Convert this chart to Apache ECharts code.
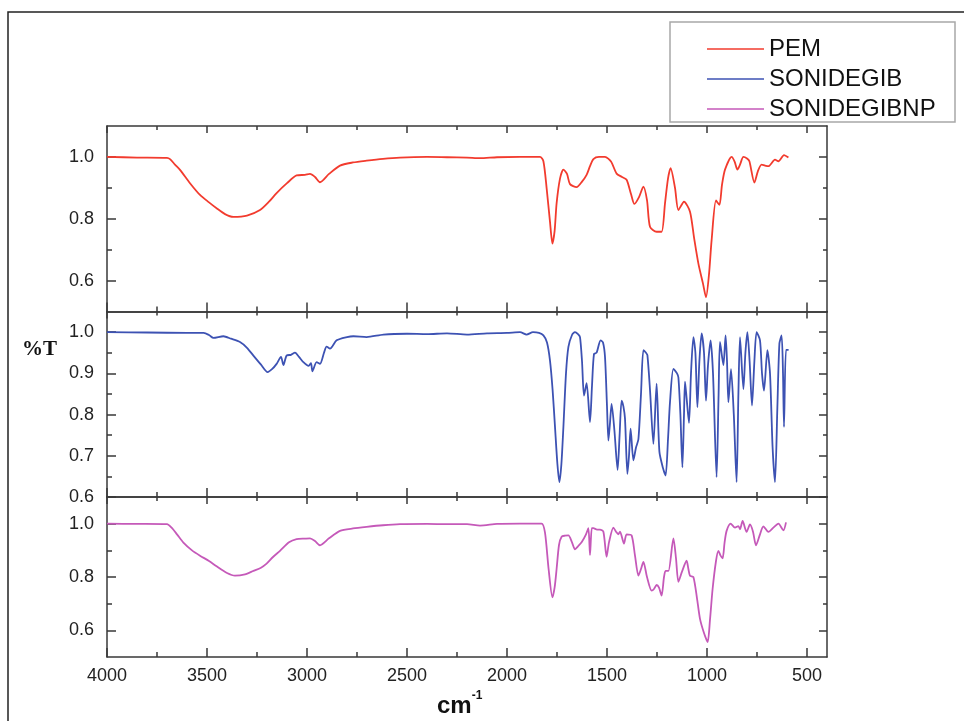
<!DOCTYPE html>
<html>
<head>
<meta charset="utf-8">
<script src="https://cdn.jsdelivr.net/npm/echarts@6/dist/echarts.min.js"></script>
<style>html,body{margin:0;padding:0;background:#fff}#c{width:964px;height:721px}</style>
</head>
<body>
<div id="c"></div>
<script>
// ---------- data (wavenumber cm-1, transmittance) ----------
const seriesNames = ['PEM', 'SONIDEGIB', 'SONIDEGIBNP'];

const pemWn = [4000,3850,3700,3685,3660,3635,3585,3535,3490,3452,3410,3368,3300,3235,3190,3152,3100,3052,3010,2985,2960,2935,2890,2835,2770,2702,2620,2535,2400,2300,2200,2135,2050,1935,1835,1818,1802,1785,1773,1762,1752,1735,1718,1700,1685,1652,1625,1602,1585,1568,1540,1510,1480,1452,1425,1402,1380,1363,1340,1318,1300,1285,1252,1227,1210,1195,1182,1160,1143,1115,1085,1065,1043,1020,1005,990,977,955,938,925,910,877,862,848,835,818,800,788,763,745,727,710,693,660,643,615,593];
const pemT  = [1.0,0.998,0.997,0.993,0.975,0.958,0.915,0.877,0.853,0.834,0.815,0.806,0.81,0.828,0.855,0.883,0.915,0.94,0.942,0.945,0.935,0.918,0.945,0.972,0.982,0.988,0.994,0.998,1.0,0.999,0.998,0.996,0.999,1.0,1.0,0.986,0.9,0.79,0.72,0.76,0.85,0.93,0.959,0.945,0.912,0.902,0.92,0.942,0.97,0.993,1.0,1.0,0.985,0.946,0.935,0.926,0.88,0.848,0.87,0.904,0.86,0.774,0.758,0.758,0.85,0.93,0.964,0.9,0.828,0.855,0.823,0.74,0.655,0.59,0.546,0.62,0.73,0.859,0.845,0.91,0.959,1.0,0.985,0.959,0.975,1.0,0.995,0.986,0.917,0.955,0.975,0.972,0.97,0.991,0.986,1.006,0.998];

const sonWn = [4000,3800,3600,3517,3490,3468,3418,3380,3335,3300,3268,3230,3197,3175,3152,3130,3118,3102,3080,3060,3040,3018,2992,2980,2973,2952,2935,2915,2902,2885,2852,2800,2768,2702,2618,2500,2400,2300,2200,2100,2000,1935,1902,1870,1840,1818,1800,1785,1772,1760,1748,1738,1728,1718,1705,1693,1675,1660,1645,1635,1625,1615,1602,1585,1575,1565,1552,1532,1520,1510,1500,1493,1485,1477,1463,1447,1437,1427,1418,1410,1398,1390,1382,1368,1355,1343,1330,1318,1305,1298,1285,1268,1252,1238,1220,1207,1195,1185,1168,1150,1143,1133,1123,1115,1110,1102,1090,1080,1068,1058,1048,1038,1027,1015,1005,995,982,970,952,942,935,918,907,900,893,880,866,852,843,835,818,808,798,787,775,763,752,735,725,715,698,685,672,660,648,638,627,620,615,605,592];
const sonT  = [1.0,0.999,0.998,0.998,0.993,0.986,0.99,0.984,0.976,0.962,0.943,0.921,0.903,0.91,0.923,0.94,0.92,0.943,0.945,0.95,0.94,0.927,0.918,0.925,0.905,0.927,0.923,0.95,0.965,0.96,0.98,0.988,0.99,0.988,0.994,0.996,0.995,0.997,0.994,0.997,0.998,1.0,0.994,1.0,0.998,0.992,0.975,0.931,0.86,0.77,0.68,0.636,0.68,0.77,0.9,0.964,0.993,1.0,0.995,0.988,0.93,0.846,0.876,0.782,0.87,0.947,0.95,0.98,0.975,0.94,0.82,0.737,0.78,0.826,0.762,0.666,0.75,0.834,0.82,0.79,0.656,0.7,0.766,0.689,0.72,0.74,0.85,0.956,0.95,0.944,0.86,0.729,0.875,0.71,0.67,0.652,0.74,0.83,0.911,0.9,0.89,0.8,0.672,0.8,0.88,0.84,0.78,0.9,0.988,0.95,0.818,0.93,0.997,0.95,0.834,0.92,0.98,0.9,0.648,0.85,0.976,0.92,0.992,0.93,0.83,0.91,0.8,0.636,0.85,0.988,0.862,0.95,1.0,0.93,0.822,0.93,1.0,0.98,0.9,0.858,0.956,0.9,0.72,0.636,0.82,0.972,0.992,0.9,0.77,0.957,0.957];

const npWn = [4000,3850,3700,3677,3650,3618,3575,3535,3490,3452,3400,3360,3310,3268,3230,3202,3170,3135,3090,3052,3010,2985,2960,2935,2890,2835,2770,2702,2620,2535,2400,2300,2200,2135,2050,1935,1827,1810,1792,1773,1762,1752,1740,1727,1710,1693,1675,1660,1645,1627,1605,1593,1585,1576,1568,1550,1535,1518,1502,1490,1468,1455,1443,1435,1415,1402,1377,1360,1343,1330,1318,1300,1277,1265,1252,1240,1227,1215,1207,1193,1168,1155,1143,1125,1102,1093,1085,1068,1050,1035,1015,997,985,972,955,943,932,922,912,902,882,860,843,835,822,802,785,770,755,735,718,693,668,643,618,605];
const npT  = [1.0,0.999,0.998,0.985,0.96,0.929,0.9,0.88,0.86,0.84,0.815,0.805,0.81,0.823,0.835,0.85,0.875,0.898,0.93,0.942,0.944,0.945,0.935,0.919,0.945,0.973,0.982,0.988,0.994,0.998,0.999,0.998,0.998,0.993,0.999,1.0,1.0,0.966,0.83,0.724,0.76,0.83,0.92,0.951,0.955,0.956,0.93,0.904,0.915,0.93,0.96,0.983,0.882,0.983,0.983,0.978,0.978,0.97,0.876,0.93,0.985,0.97,0.96,0.97,0.925,0.96,0.956,0.88,0.805,0.83,0.857,0.8,0.749,0.755,0.77,0.76,0.73,0.8,0.823,0.823,0.945,0.87,0.782,0.82,0.861,0.83,0.805,0.8,0.72,0.643,0.59,0.556,0.64,0.755,0.86,0.898,0.88,0.87,0.93,0.973,1.0,0.985,0.991,0.979,1.01,0.969,0.997,0.97,0.919,0.96,0.99,0.969,0.985,1.0,0.975,1.005];

// tick labels
const xMajorTicks = [500,1000,1500,2000,2500,3000,3500,4000];
const xMinorTicks = [750,1250,1750,2250,2750,3250,3750];
const yMajorTop = [0.6,0.8,1.0];
const yMinorTop = [0.7,0.9];
const yMajorMid = [0.6,0.7,0.8,0.9,1.0];
const yMinorMid = [0.65,0.75,0.85,0.95];
const yMajorBot = [0.6,0.8,1.0];
const yMinorBot = [0.7,0.9];

const colors = ['#f23b2e', '#3d52b3', '#c559b9'];

// ---------- layout ----------
const panels = [
  {top: 126, height: 185.5, ymin: 0.5, ymax: 1.1, major: yMajorTop, minor: yMinorTop},
  {top: 311.5, height: 185.5, ymin: 0.6, ymax: 1.05, major: yMajorMid, minor: yMinorMid},
  {top: 497, height: 160, ymin: 0.5, ymax: 1.1, major: yMajorBot, minor: yMinorBot}
];
const LINE = '#383838';
const FONT = '"Liberation Sans", Arial, sans-serif';

const grid = [], xAxis = [], yAxis = [];
panels.forEach((p, i) => {
  grid.push({left: 107, width: 720, top: p.top, height: p.height});
  const xBase = {gridIndex: i, type: 'value', min: 400, max: 4000, inverse: true,
    splitLine: {show: false}};
  const mkX = (pos, vals, len, showLine, showLabel) => Object.assign({}, xBase, {
    position: pos,
    axisLine: {show: showLine, onZero: false, lineStyle: {color: LINE, width: 1.5}},
    axisTick: {show: true, inside: true, length: len, customValues: vals, lineStyle: {color: LINE, width: 1.5}},
    axisLabel: showLabel ? {show: true, customValues: vals, fontSize: 18, fontFamily: FONT, color: '#222', margin: 10,
      formatter: v => String(v)} : {show: false}
  });
  xAxis.push(mkX('bottom', xMajorTicks, 9, true, i === 2));
  xAxis.push(mkX('bottom', xMinorTicks, 5, false, false));
  xAxis.push(mkX('top', xMajorTicks, 7, true, false));
  xAxis.push(mkX('top', xMinorTicks, 4, false, false));

  const yBase = {gridIndex: i, type: 'value', min: p.ymin, max: p.ymax, splitLine: {show: false}};
  const mkY = (pos, vals, len, showLine, showLabel) => Object.assign({}, yBase, {
    position: pos,
    axisLine: {show: showLine, onZero: false, lineStyle: {color: LINE, width: 1.5}},
    axisTick: {show: true, inside: true, length: len, customValues: vals, lineStyle: {color: LINE, width: 1.5}},
    axisLabel: showLabel ? {show: true, customValues: vals, fontSize: 18, fontFamily: FONT, color: '#222', margin: 13,
      formatter: v => Number(v).toFixed(1)} : {show: false}
  });
  yAxis.push(mkY('left', p.major, 9, true, true));
  yAxis.push(mkY('left', p.minor, 5, false, false));
  yAxis.push(mkY('right', p.major, 8, true, false));
  yAxis.push(mkY('right', p.minor, 4, false, false));
});

const zip = (a, b) => a.map((v, k) => [v, b[k]]);
const dataSets = [zip(pemWn, pemT), zip(sonWn, sonT), zip(npWn, npT)];

const series = dataSets.map((d, i) => ({
  name: seriesNames[i], type: 'line', data: d,
  xAxisIndex: 4 * i, yAxisIndex: 4 * i,
  symbol: 'none', smooth: 0.25,
  lineStyle: {color: colors[i], width: 1.8},
  itemStyle: {color: colors[i]},
  clip: true
}));

const chart = echarts.init(document.getElementById('c'), null, {renderer: 'canvas'});
chart.setOption({
  backgroundColor: '#fff',
  animation: false,
  grid, xAxis, yAxis, series,
  legend: {
    data: seriesNames.map(n => ({name: n, icon: 'rect'})), orient: 'vertical', left: 702, top: 32,
    itemWidth: 57, itemHeight: 1.6, itemGap: 6,
    textStyle: {fontSize: 24, fontFamily: FONT, color: '#111', lineHeight: 24}
  },
  graphic: [
    {type: 'rect', shape: {x: 8, y: 12, width: 1000, height: 800}, style: {fill: 'none', stroke: '#222', lineWidth: 1.5}, silent: true},
    {type: 'rect', shape: {x: 670, y: 22, width: 285, height: 100}, style: {fill: 'none', stroke: '#a8a8a8', lineWidth: 1.5}, silent: true},
    {type: 'text', left: 22, top: 339, style: {text: '%T', font: 'bold 21px "Liberation Serif", "Times New Roman", serif', fill: '#111'}},
    {type: 'text', left: 437, top: 690, style: {text: '{a|cm}{b|-1}', rich: {
      a: {font: 'bold 24px "Liberation Sans", Arial, sans-serif', fill: '#111', lineHeight: 28, verticalAlign: 'bottom'},
      b: {font: 'bold 12px "Liberation Sans", Arial, sans-serif', fill: '#111', lineHeight: 28, verticalAlign: 'top'}
    }}}
  ]
});
</script>
</body>
</html>
